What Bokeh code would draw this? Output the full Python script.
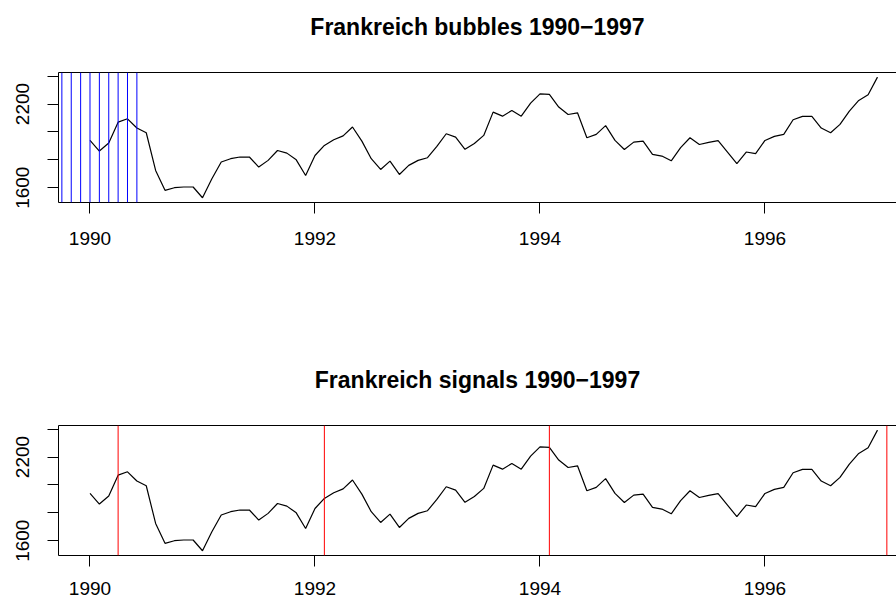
from bokeh.plotting import figure
from bokeh.models import Range1d, FixedTicker, LinearAxis, Span
from bokeh.layouts import column
from bokeh.embed import file_html
from bokeh.resources import INLINE

# ---- data (monthly index, France, 1990-1997) ----
start_year = 1990
months_per_year = 12
index_values = [
    1939, 1863, 1920, 2070, 2094, 2028, 1994, 1724, 1581, 1600, 1605, 1605,
    1528, 1664, 1784, 1808, 1820, 1820, 1748, 1796, 1867, 1848, 1800, 1688,
    1831, 1903, 1944, 1972, 2035, 1934, 1808, 1731, 1791, 1695, 1760, 1796,
    1815, 1896, 1987, 1963, 1875, 1917, 1975, 2142, 2113, 2154, 2113, 2206,
    2273, 2269, 2178, 2125, 2137, 1958, 1982, 2045, 1939, 1874, 1927, 1934,
    1839, 1827, 1793, 1887, 1958, 1910, 1925, 1937, 1855, 1773, 1856, 1844,
    1939, 1968, 1982, 2087, 2111, 2111, 2028, 1994, 2054, 2149, 2226, 2266,
    2393,
]
dates = [start_year + i / months_per_year for i in range(len(index_values))]

bubble_dates = [1989.75, 1989.8333, 1989.9167, 1990.0, 1990.0833,
                1990.1667, 1990.25, 1990.3333, 1990.4167]
signal_dates = [1990.25, 1992.0833, 1994.0833, 1997.0833]

x_ticks = [1990, 1992, 1994, 1996]
x_tick_labels = ["1990", "1992", "1994", "1996"]
y_ticks = [1600, 1800, 2000, 2200, 2400]
y_tick_labels = ["1600", "", "", "2200", ""]

titles = ["Frankreich bubbles 1990\u22121997", "Frankreich signals 1990\u22121997"]

FONT = "Liberation Sans"


def make_panel(title, height, border_top, border_bottom, label_standoff):
    p = figure(width=896, height=height, output_backend="svg", toolbar_location=None,
               x_range=Range1d(1989.72, 1997.169), y_range=Range1d(1494, 2426),
               x_axis_type=None, y_axis_type=None, title=None,
               min_border_left=58, min_border_right=0, min_border_top=border_top,
               min_border_bottom=border_bottom)
    p.outline_line_color = None
    p.background_fill_color = "white"
    p.border_fill_color = "white"

    xa = LinearAxis(ticker=FixedTicker(ticks=x_ticks),
                    major_label_overrides=dict(zip(x_ticks, x_tick_labels)))
    xa.major_tick_out = 11
    xa.major_tick_in = 0
    xa.minor_tick_out = 0
    xa.minor_tick_in = 0
    xa.major_label_standoff = label_standoff
    xa.major_label_text_font = FONT
    xa.major_label_text_font_size = "19px"
    xa.major_label_text_color = "black"
    xa.axis_line_color = "black"
    xa.major_tick_line_color = "black"
    p.add_layout(xa, "below")

    ya = LinearAxis(ticker=FixedTicker(ticks=y_ticks),
                    major_label_overrides=dict(zip(y_ticks, y_tick_labels)))
    ya.major_label_orientation = "vertical"
    ya.major_tick_out = 11
    ya.major_tick_in = 0
    ya.minor_tick_out = 0
    ya.minor_tick_in = 0
    ya.major_label_standoff = 18
    ya.major_label_text_font = FONT
    ya.major_label_text_font_size = "19px"
    ya.major_label_text_color = "black"
    ya.axis_line_color = "black"
    ya.major_tick_line_color = "black"
    p.add_layout(ya, "left")

    # top border line carrying the panel title
    top = LinearAxis(ticker=FixedTicker(ticks=[]), axis_label=title)
    top.major_tick_out = 0
    top.major_tick_in = 0
    top.minor_tick_out = 0
    top.minor_tick_in = 0
    top.major_label_standoff = 0
    top.major_label_text_font_size = "0px"
    top.axis_line_color = "black"
    top.axis_label_standoff = 33
    top.axis_label_text_font = FONT
    top.axis_label_text_font_size = "23px"
    top.axis_label_text_font_style = "bold"
    top.axis_label_text_color = "black"
    p.add_layout(top, "above")

    p.line(dates, index_values, line_color="black", line_width=1.2)
    return p


p1 = make_panel(titles[0], 361, 72, 159, 18)
for d in bubble_dates:
    p1.add_layout(Span(location=d, dimension="height", line_color="#0000FF", line_width=1))

p2 = make_panel(titles[1], 242, 64, 48, 15)
for d in signal_dates:
    p2.add_layout(Span(location=d, dimension="height", line_color="#FF0000", line_width=1))

layout = column(p1, p2, spacing=0)
open("out.html", "w").write(file_html(layout, INLINE))
